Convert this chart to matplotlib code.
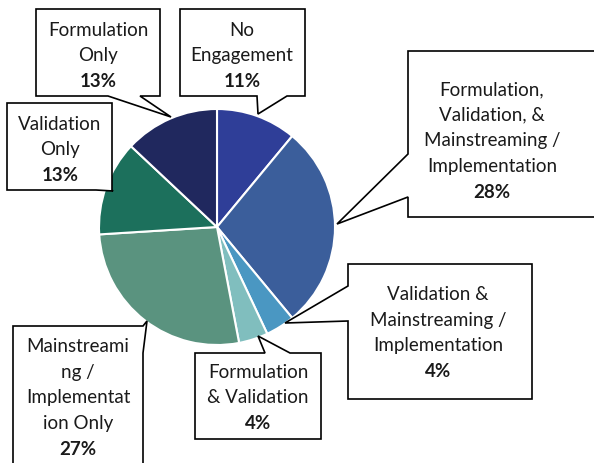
import matplotlib
matplotlib.use("Agg")
import matplotlib.pyplot as plt
from matplotlib.patches import Polygon

plt.rcParams["font.family"] = ["Lato", "DejaVu Sans"]

# data, clockwise from 12 o'clock
labels = [
    ["No", "Engagement"],
    ["Formulation,", "Validation, &", "Mainstreaming /", "Implementation"],
    ["Validation &", "Mainstreaming /", "Implementation"],
    ["Formulation", "& Validation"],
    ["Mainstreami", "ng /", "Implementat", "ion Only"],
    ["Validation", "Only"],
    ["Formulation", "Only"],
]
shares = [11, 28, 4, 4, 27, 13, 13]
colors = ["#2F3E98", "#3B5E9B", "#4A97C2", "#80BEBE", "#5A937F", "#1C705C", "#20285E"]

# callout layout in pixel coords (top-left origin):
# box (x0, y0, x1, y1), pointer side, pointer base (a, b), tip, text centre
callouts = [
    ((180, 10, 305, 97), "bottom", (257, 287), (258, 115), (242, 56)),
    ((408, 52, 600, 218), "left", (155, 198), (337, 225), (492, 141)),
    ((348, 265, 532, 400), "left", (287, 322), (285, 324), (438, 333)),
    ((195, 354, 321, 440), "top", (265, 290), (258, 337), (258, 398)),
    ((13, 327, 143, 470), "right", (327, 354), (147, 322), (78, 398)),
    ((7, 104, 112, 191), "bottom", (96, 112), (113, 192), (60, 150)),
    ((36, 10, 160, 97), "bottom", (108, 140), (171, 118), (98, 56)),
]


def callout_shape(box, side, base, tip):
    x0, y0, x1, y1 = box
    a, b = base
    if side == "top":
        pts = [(x0, y0), (a, y0), tip, (b, y0), (x1, y0), (x1, y1), (x0, y1)]
    elif side == "right":
        pts = [(x0, y0), (x1, y0), (x1, a), tip, (x1, b), (x1, y1), (x0, y1)]
    elif side == "bottom":
        pts = [(x0, y0), (x1, y0), (x1, y1), (b, y1), tip, (a, y1), (x0, y1)]
    else:
        pts = [(x0, y0), (x1, y0), (x1, y1), (x0, y1), (x0, b), tip, (x0, a)]
    return Polygon(pts, closed=True, facecolor="white", edgecolor="black",
                   linewidth=1.2, zorder=3)


fig = plt.figure(figsize=(5.94, 4.64), dpi=100)
ax = fig.add_axes([0, 0, 1, 1])

# y axis is inverted below, so counterclock=True reads clockwise on screen
ax.pie(shares, colors=colors, center=(217, 228), radius=118,
       startangle=-90, counterclock=True,
       wedgeprops=dict(edgecolor="white", linewidth=1.5))

LS = 25.8
for lab, pct, (box, side, base, tip, (cx, cy)) in zip(labels, shares, callouts):
    ax.add_patch(callout_shape(box, side, base, tip))
    lines = lab + [f"{pct}%"]
    n = len(lines)
    for i, line in enumerate(lines):
        y = cy + (i - (n - 1) / 2) * LS
        bold = i == n - 1
        ax.text(cx, y, line, ha="center", va="center", fontsize=13.5,
                fontweight="bold" if bold else "normal", color="#1a1a1a", zorder=4)

ax.set_xlim(0, 594)
ax.set_ylim(464, 0)
ax.set_aspect("equal")
ax.axis("off")

fig.savefig("out.png", dpi=100)
